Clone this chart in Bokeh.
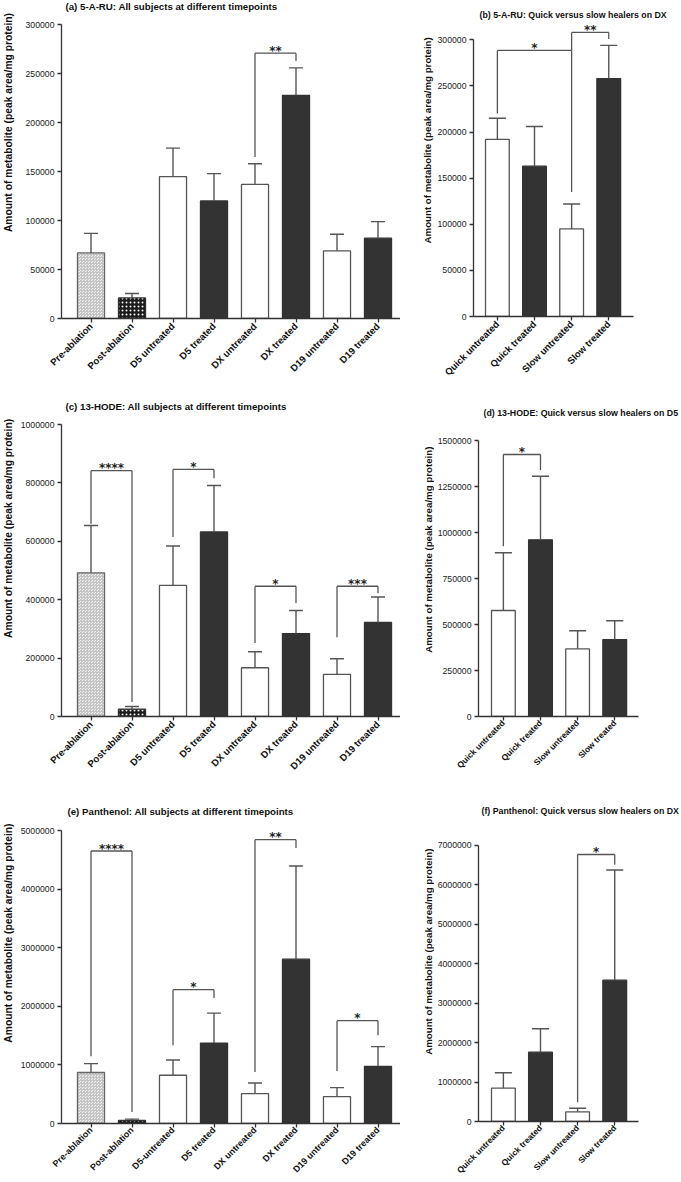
import math
from bokeh.plotting import figure
from bokeh.models import Range1d, FixedTicker, NumeralTickFormatter, Label, ColumnDataSource
from bokeh.layouts import column, row
from bokeh.embed import file_html
from bokeh.resources import INLINE
from bokeh.core.properties import value

# ---------------- data ----------------
timepoint_labels = ["Pre-ablation", "Post-ablation", "D5 untreated", "D5 treated",
                    "DX untreated", "DX treated", "D19 untreated", "D19 treated"]
timepoint_labels_e = ["Pre-ablation", "Post-ablation", "D5-untreated", "D5 treated",
                      "DX untreated", "DX treated", "D19 untreated", "D19 treated"]
healer_labels = ["Quick untreated", "Quick treated", "Slow untreated", "Slow treated"]
timepoint_kind = ["pre", "post", "untreated", "treated", "untreated", "treated", "untreated", "treated"]
healer_kind = ["untreated", "treated", "untreated", "treated"]

a_title = "(a) 5-A-RU: All subjects at different timepoints"
a_mean = [67000, 21000, 145000, 120000, 137000, 228000, 69000, 82000]
a_upper = [87000, 25500, 174000, 148000, 158000, 256000, 86000, 99000]
a_brackets = [(4, 5, 271000, 165000, 263000, "**")]

b_title = "(b) 5-A-RU: Quick versus slow healers on DX"
b_mean = [192000, 163000, 95000, 258000]
b_upper = [215000, 206000, 122000, 294000]
b_brackets = [(0, 2, 288500, 220000, 135000, "*"), (2, 3, 308000, 288500, 301000, "**")]

c_title = "(c) 13-HODE: All subjects at different timepoints"
c_mean = [492000, 25000, 449000, 632000, 167000, 284000, 144000, 322000]
c_upper = [654000, 34000, 584000, 791000, 222000, 363000, 198000, 409000]
c_brackets = [(0, 1, 842000, 660000, 50000, "****"), (2, 3, 846000, 615000, 816000, "*"),
              (4, 5, 446000, 252000, 389000, "*"), (6, 7, 446000, 271000, 422000, "***")]

d_title = "(d) 13-HODE: Quick versus slow healers on D5"
d_mean = [576000, 960000, 368000, 418000]
d_upper = [890000, 1306000, 466000, 520000]
d_brackets = [(0, 1, 1424000, 925000, 1340000, "*")]

e_title = "(e) Panthenol: All subjects at different timepoints"
e_mean = [870000, 52000, 823000, 1373000, 511000, 2804000, 460000, 976000]
e_upper = [1022000, 75000, 1083000, 1884000, 692000, 4395000, 613000, 1312000]
e_brackets = [(0, 1, 4650000, 1147000, 198000, "****"), (2, 3, 2283000, 1334000, 2140000, "*"),
              (4, 5, 4843000, 880000, 4700000, "**"), (6, 7, 1755000, 896000, 1504000, "*")]

f_title = "(f) Panthenol: Quick versus slow healers on DX"
f_mean = [843000, 1755000, 245000, 3577000]
f_upper = [1235000, 2347000, 337000, 6367000]
f_brackets = [(2, 3, 6760000, 490000, 6500000, "*")]

y_label = "Amount of metabolite (peak area/mg protein)"

# ---------------- styling / layout ----------------
FONT = "Liberation Sans"
STAR_FONT = "DejaVu Sans"
LINE = "#555555"
DARK = "#333333"

STYLE = {
    "pre": dict(fill_color="#f4f4f4", line_color="#666666", hatch_pattern="criss_cross",
                hatch_color="#c4c4c4", hatch_scale=3, hatch_weight=1),
    "post": dict(fill_color="#1a1a1a", line_color="#333333", hatch_pattern="dot",
                 hatch_color="#ffffff", hatch_scale=4, hatch_weight=1),
    "untreated": dict(fill_color="#ffffff", line_color=LINE),
    "treated": dict(fill_color=DARK, line_color=DARK),
}


def label_strip(g):
    """Narrow strip holding the rotated y-axis title."""
    w = g["lab_w"]
    h = g["fig_h"]
    q = figure(width=w, height=h, output_backend="svg", toolbar_location=None, title=None,
               x_range=Range1d(0, w), y_range=Range1d(0, h), x_axis_type=None, y_axis_type=None,
               min_border_left=0, min_border_right=0, min_border_top=0, min_border_bottom=0)
    q.outline_line_color = None
    q.xgrid.visible = False
    q.ygrid.visible = False
    q.text(x=[g["ylab_x"] - g["col_x"]], y=[g["fig_top"] + h - g["ylab_y"]], text=[y_label],
           angle=math.pi / 2, text_font=value(FONT), text_font_size=value(g["ylab_size"]),
           text_font_style="bold", text_align="center", text_baseline="middle", text_color="#111111")
    return q


def make_panel(title, labels, kinds, mean, upper, brackets, g):
    fig_left = g["col_x"] + g["lab_w"]
    fig_w = g["col_w"] - g["lab_w"]
    left = g["left"] - fig_left
    B = round(g["fig_top"] + g["fig_h"] - g["zero"])
    frame_h = g["fig_h"] - B
    ppu = g["ppu"]
    sp = g["spacing"]
    x_start = -(g["first"] - g["left"]) / sp
    x_end = x_start + (fig_w - left) / sp
    y_end = frame_h / ppu
    p = figure(width=fig_w, height=g["fig_h"], output_backend="svg", toolbar_location=None,
               title=None, x_range=Range1d(x_start, x_end), y_range=Range1d(0, y_end),
               min_border_left=left, min_border_right=0, min_border_top=0, min_border_bottom=B)
    p.outline_line_color = None
    p.xgrid.visible = False
    p.ygrid.visible = False
    p.background_fill_color = "white"
    p.border_fill_color = "white"

    n = len(labels)
    xs = list(range(n))
    bw = g["bar_w"]
    for kind in ["pre", "post", "untreated", "treated"]:
        idx = [i for i in xs if kinds[i] == kind]
        if not idx:
            continue
        src = ColumnDataSource(dict(x=idx, top=[mean[i] for i in idx]))
        p.vbar(x="x", top="top", bottom=0, width=bw, source=src, line_width=1.3, **STYLE[kind])

    cw = g["cap"]
    err = ColumnDataSource(dict(x=xs, y0=mean, y1=upper,
                                cx0=[x - cw for x in xs], cx1=[x + cw for x in xs]))
    p.segment(x0="x", y0="y0", x1="x", y1="y1", source=err, line_color=LINE, line_width=1.4)
    p.segment(x0="cx0", y0="y1", x1="cx1", y1="y1", source=err, line_color=LINE, line_width=1.4)

    bx0, by0, bx1, by1 = [], [], [], []
    tx, ty, tt = [], [], []
    for (i, j, top, yl, yr, lab) in brackets:
        bx0 += [i, i, j]; bx1 += [j, i, j]
        by0 += [top, top, top]; by1 += [top, yl, yr]
        tx.append((i + j) / 2); ty.append(top + 2.5 / ppu); tt.append(lab)
    p.segment(x0=bx0, y0=by0, x1=bx1, y1=by1, line_color=LINE, line_width=1.3)
    p.text(x=tx, y=ty, text=tt, text_font=value(STAR_FONT), text_font_size=value("12px"),
           text_font_style="bold", text_align="center", text_baseline="alphabetic", text_color="#222222")

    # panel title
    p.add_layout(Label(x=x_start + (g["title"][0] - g["left"]) / sp,
                       y=(g["zero"] - g["title"][1]) / ppu, text=title,
                       text_font=FONT, text_font_size=g["title_size"], text_font_style="bold",
                       text_baseline="middle", text_align="left", text_color="#111111"))

    # axes
    ax = p.yaxis[0]
    ax.ticker = FixedTicker(ticks=list(range(0, g["ymax"] + 1, g["ystep"])))
    ax.formatter = NumeralTickFormatter(format="0")
    ax.bounds = (0, g["ymax"])
    ax.major_label_text_font = FONT
    ax.major_label_text_font_size = "8.7px"
    ax.major_label_text_color = "#222222"
    ax.major_label_standoff = 3

    xa = p.xaxis[0]
    xa.ticker = FixedTicker(ticks=xs)
    xa.major_label_overrides = {i: labels[i] for i in xs}
    xa.major_label_orientation = math.pi / 4
    xa.bounds = (x_start, x_start + (g["axis_right"] - g["left"]) / sp)
    xa.major_label_text_font = FONT
    xa.major_label_text_font_size = g["xlab_size"]
    xa.major_label_text_font_style = "bold"
    xa.major_label_text_color = "#111111"
    xa.major_label_standoff = g["xlab_standoff"]

    for a in (ax, xa):
        a.axis_line_color = "#333333"
        a.axis_line_width = 1.3
        a.major_tick_line_color = "#333333"
        a.major_tick_line_width = 1.3
        a.major_tick_out = 4
        a.major_tick_in = 0
        a.minor_tick_line_color = None
    return row(label_strip(g), p)


LEFT = dict(col_x=0, col_w=400, lab_w=16, left=61, first=90.5, spacing=41, axis_right=400,
            bar_w=0.66, cap=0.17, ylab_x=8, ylab_size="10.3px", title_size="9.7px",
            xlab_size="9.6px", xlab_standoff=2)
RIGHT = dict(col_x=400, col_w=281, lab_w=34, spacing=37.3, bar_w=0.64, cap=0.23, ylab_x=428,
             ylab_size="9.7px", title_size="8.8px", xlab_size="8.4px", xlab_standoff=1)

ga = dict(LEFT, fig_top=0, fig_h=400, zero=318, ppu=293.7 / 300000, ymax=300000, ystep=50000,
          title=(65, 6), ylab_y=153.5)
gb = dict(RIGHT, fig_top=0, fig_h=400, left=472, first=496, axis_right=633, zero=316,
          ppu=276.7 / 300000, ymax=300000, ystep=50000, title=(478, 14), ylab_x=427, ylab_y=177,
          xlab_size="9.5px", xlab_standoff=2)
gc = dict(LEFT, fig_top=400, fig_h=378, zero=716, ppu=292 / 1000000, ymax=1000000, ystep=200000,
          title=(65, 406), ylab_y=553)
gd = dict(RIGHT, fig_top=400, fig_h=378, left=477, first=502, axis_right=638, zero=716,
          ppu=276 / 1500000, ymax=1500000, ystep=250000, title=(482, 412), ylab_y=578.5)
ge = dict(LEFT, fig_top=778, fig_h=404, zero=1123, ppu=293 / 5000000, ymax=5000000, ystep=1000000,
          title=(67, 810.7), ylab_y=959, xlab_size="9.0px", xlab_standoff=1)
gf = dict(RIGHT, fig_top=778, fig_h=404, left=477, first=502, axis_right=638, zero=1121,
          ppu=276.5 / 7000000, ymax=7000000, ystep=1000000, title=(480, 810), ylab_y=982)

pa = make_panel(a_title, timepoint_labels, timepoint_kind, a_mean, a_upper, a_brackets, ga)
pb = make_panel(b_title, healer_labels, healer_kind, b_mean, b_upper, b_brackets, gb)
pc = make_panel(c_title, timepoint_labels, timepoint_kind, c_mean, c_upper, c_brackets, gc)
pd = make_panel(d_title, healer_labels, healer_kind, d_mean, d_upper, d_brackets, gd)
pe = make_panel(e_title, timepoint_labels_e, timepoint_kind, e_mean, e_upper, e_brackets, ge)
pf = make_panel(f_title, healer_labels, healer_kind, f_mean, f_upper, f_brackets, gf)

layout = column(row(pa, pb), row(pc, pd), row(pe, pf))
open("out.html", "w").write(file_html(layout, INLINE))
